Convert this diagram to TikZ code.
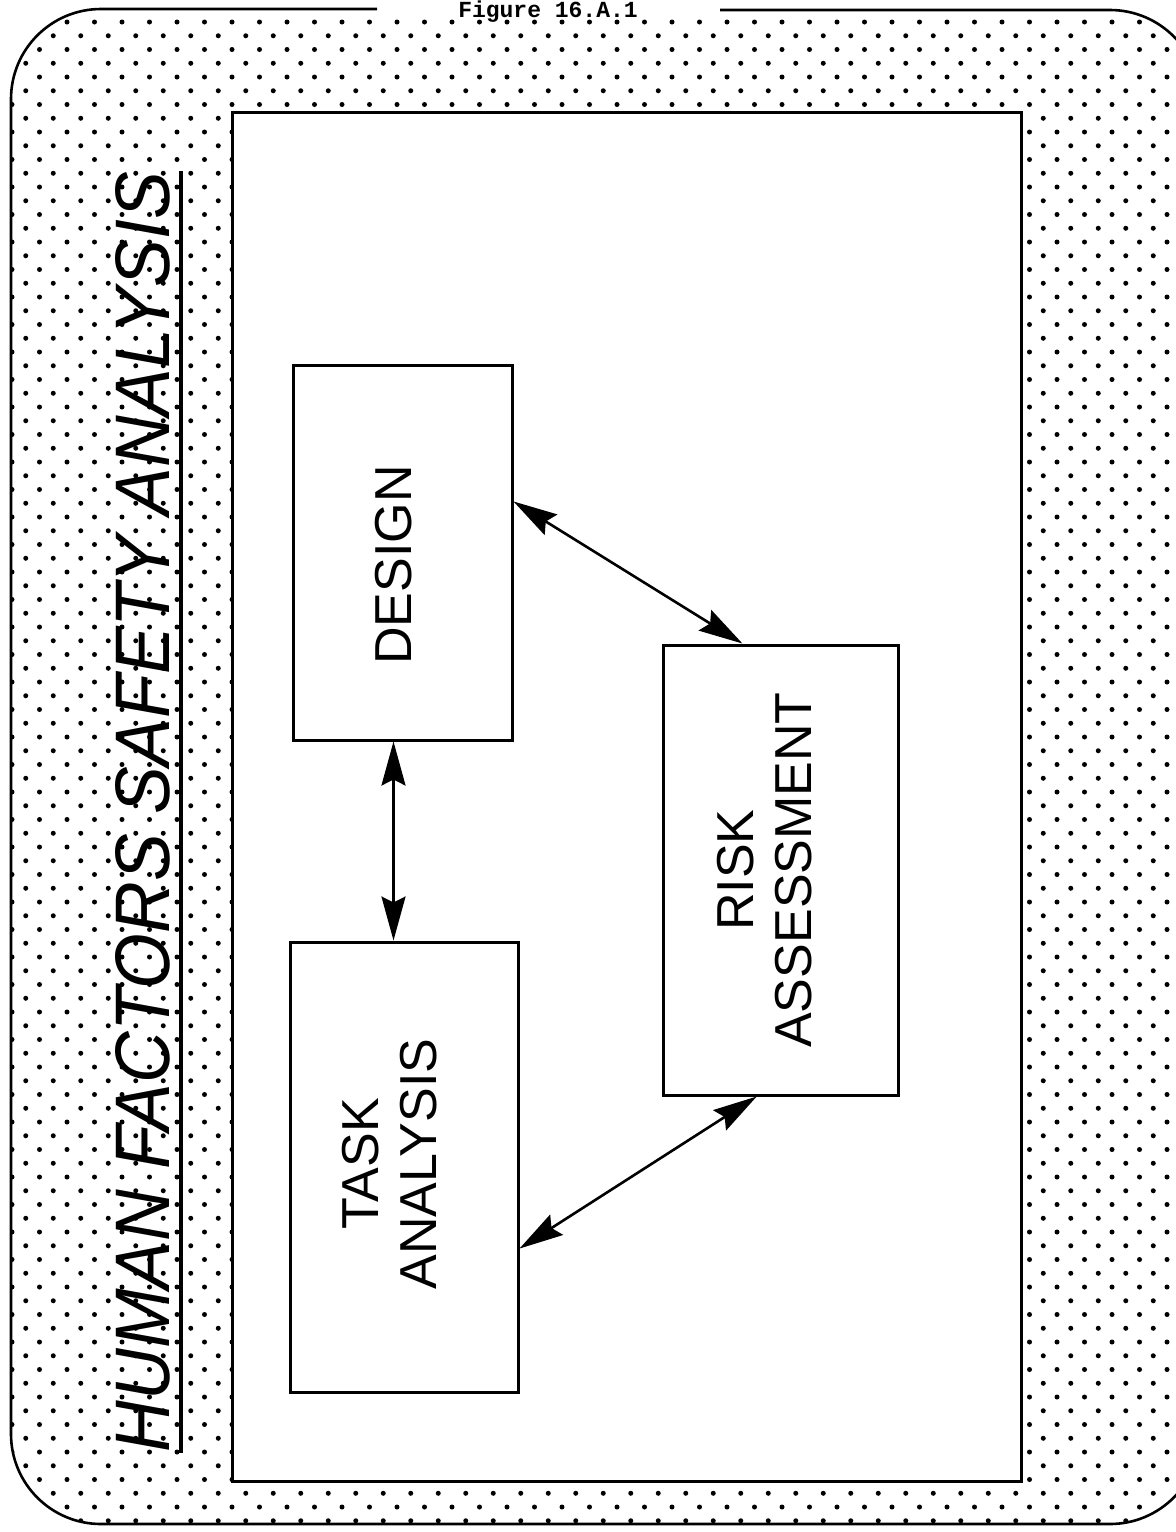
\documentclass[tikz,border=0pt]{standalone}
\usepackage{graphicx}
\usepackage{fontspec}
\setmainfont{Liberation Sans}
\newfontfamily\figfont{Liberation Mono}
\usetikzlibrary{positioning,calc,arrows.meta}

\tikzset{
  block/.style={draw, line width=1.5pt, fill=white, inner sep=0pt},
  blocklabel/.style={rotate=90, align=center, inner sep=0pt,
    font=\fontsize{26pt}{29pt}\selectfont},
  link/.style={line width=1.3pt,
    {Stealth[length=22pt,width=12pt,inset=3pt]}-{Stealth[length=22pt,width=12pt,inset=3pt]}}
}

\begin{document}
\begin{tikzpicture}[x=0.5pt,y=-0.5pt]
  \useasboundingbox (0,0) rectangle (1176,1532);
  \fill[white] (0,0) rectangle (1176,1532);

  % dotted frame
  \begin{scope}
    \clip[rounded corners=45] (11,9) rectangle (1200,1524);
    \foreach \r [evaluate=\r as \off using {mod(\r,2)*13.75}] in {0,...,110}
      \foreach \c in {0,...,43}
        \fill (\c*27.5+\off+12, \r*13.75+22) circle[radius=2.5];
  \end{scope}
  \draw[line width=1.3pt, rounded corners=45] (377,9) -- (11,9) -- (11,1524)
    -- (1200,1524) -- (1200,10) -- (720,10);
  \node[anchor=base, font=\figfont\bfseries\fontsize{11.5pt}{12pt}\selectfont]
    (figlabel) at (548,17) {Figure 16.A.1};

  % title
  \node[rotate=90, inner sep=0pt] (title) at (143,812)
    {\resizebox{640pt}{27pt}{\itshape HUMAN FACTORS SAFETY ANALYSIS}};
  \draw[line width=1.8pt] ($(title.south west)+(10,0)$) -- ($(title.south east)+(10,0)$);

  % panel
  \draw[line width=1.5pt, fill=white] (232,112) rectangle (1021,1481);

  \node[block, minimum width=109.5pt, minimum height=187.5pt] (design) at (402.5,552.5) {};
  \node[block, minimum width=114pt, minimum height=225pt] (task) at (404,1167) {};
  \node[block, minimum width=117.5pt, minimum height=225pt] (risk) at (780.5,870) {};

  \node[blocklabel] (designtext) at (393.5,565) {DESIGN};
  \node[blocklabel] (tasktext) at (390,1164) {TASK\\ANALYSIS};
  \node[blocklabel] (risktext) at (765,870) {RISK\\ASSESSMENT};

  \draw[link] (design.south -| designtext) -- (task.north -| designtext);
  \draw[link] ($(design.north east)!0.365!(design.south east)$)
    -- ($(risk.north west)!0.34!(risk.north east)$);
  \draw[link] ($(task.north east)!0.68!(task.south east)$)
    -- ($(risk.south west)!0.40!(risk.south east)$);
\end{tikzpicture}
\end{document}
